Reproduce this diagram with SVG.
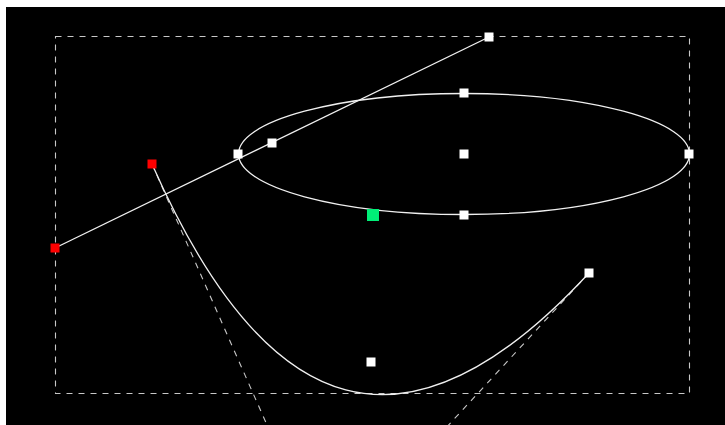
<svg xmlns="http://www.w3.org/2000/svg" width="725" height="425" viewBox="0 0 725 425">
  <style>
    .curve { fill: none; stroke: #f0f0f0; stroke-width: 1.3; }
    .guide { fill: none; stroke: #c8c8c8; stroke-width: 1.1; stroke-dasharray: 6 6; }
    .pt { fill: #ffffff; }
    .red { fill: #ff0000; }
    .sel { fill: #00ee77; }
  </style>
  <rect x="0" y="0" width="725" height="425" fill="#ffffff"/>
  <rect x="6" y="7" width="719" height="418" fill="#000000"/>
  <g id="connectors">
    <rect id="bbox" class="guide" x="55.5" y="36.5" width="634" height="357"/>
    <line class="guide" x1="152" y1="164" x2="267" y2="425"/>
    <line class="guide" x1="589" y1="273" x2="408" y2="469"/>
    <ellipse class="curve" cx="464" cy="154" rx="225.5" ry="60.5"/>
    <line class="curve" x1="55" y1="248" x2="489" y2="37"/>
    <path class="curve" d="M152,164 C267,425 408,469 589,273"/>
  </g>
  <g id="line-start"><rect class="red" x="50.5" y="243.5" width="9" height="9"/></g>
  <g id="line-end"><rect class="pt" x="484.5" y="32.5" width="9" height="9"/></g>
  <g id="line-mid"><rect class="pt" x="267.5" y="138.5" width="9" height="9"/></g>
  <g id="ellipse-left"><rect class="pt" x="233.5" y="149.5" width="9" height="9"/></g>
  <g id="ellipse-right"><rect class="pt" x="684.5" y="149.5" width="9" height="9"/></g>
  <g id="ellipse-top"><rect class="pt" x="459.5" y="88.5" width="9" height="9"/></g>
  <g id="ellipse-center"><rect class="pt" x="459.5" y="149.5" width="9" height="9"/></g>
  <g id="ellipse-bottom"><rect class="pt" x="459.5" y="210.5" width="9" height="9"/></g>
  <g id="ellipse-selected"><rect class="sel" x="367" y="209" width="12" height="12"/></g>
  <g id="curve-start"><rect class="red" x="147.5" y="159.5" width="9" height="9"/></g>
  <g id="curve-end"><rect class="pt" x="584.5" y="268.5" width="9" height="9"/></g>
  <g id="curve-point"><rect class="pt" x="366.5" y="357.5" width="9" height="9"/></g>
</svg>
